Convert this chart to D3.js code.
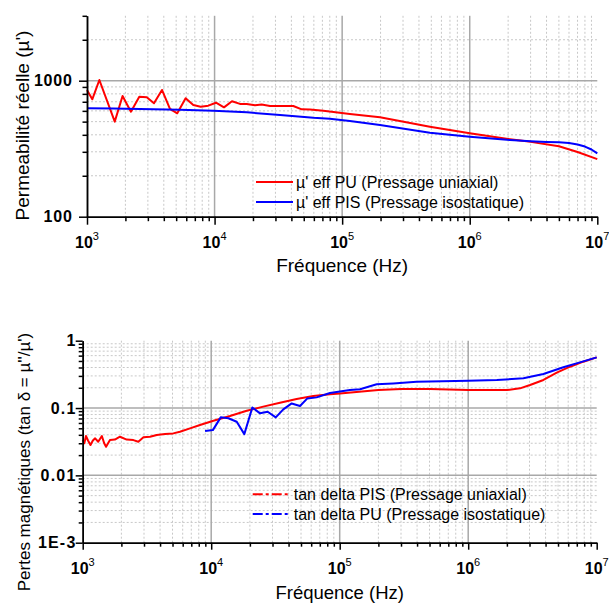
<!DOCTYPE html>
<html><head><meta charset="utf-8">
<script src="https://cdn.jsdelivr.net/npm/d3@7"></script>
<style>
html,body{margin:0;padding:0;background:#fff;}
text{font-family:"Liberation Sans",Arial,sans-serif;}
</style></head>
<body>
<svg id="c" width="609" height="605"></svg>
<script>
// ---------- DATA ----------
// Top plot: real permeability
const freqPU = [1000,1100,1250,1650,1900,2210,2570,2940,3350,3870,4470,5100,5930,6810,7780,8930,10260,11850,13690,15800,17840,20760,23400,27200,41400,48200,56000,71200,115000,198000,487000,1000000,2070000,3000000,5000000,7000000,10000000];
const muPU   = [855,730,1012,500,772,592,763,755,682,855,620,576,743,662,644,655,689,637,706,675,675,660,667,652,652,616,615,601,569,538,459,410,371,355,330,299,265];
const freqPIS = [1000,1600,5350,9800,17900,32600,59500,80000,115000,198000,487000,1000000,2070000,3000000,4000000,5000000,6000000,7000000,8000000,9000000,10000000];
const muPIS   = [627,625,612,600,585,560,533,525,505,472,415,387,366,358,354,352,348,340,328,312,292];

// Bottom plot: magnetic losses
const freqTanPIS = [1000,1030,1060,1100,1150,1200,1250,1320,1410,1470,1520,1630,1780,1950,2200,2480,2710,2970,3340,3770,4370,5070,5710,6840,8180,10400,14000,18900,25400,34300,46200,62300,84000,100400,200000,303000,505000,1000000,2000000,2530000,3030000,3850000,4890000,6200000,7870000,10000000];
const tanPIS     = [0.0334,0.0300,0.0384,0.0330,0.0282,0.0330,0.0355,0.0316,0.0384,0.0300,0.0266,0.0334,0.034,0.0375,0.034,0.0334,0.0316,0.0367,0.0375,0.0398,0.041,0.042,0.0444,0.0499,0.0559,0.0647,0.076,0.0912,0.105,0.12,0.136,0.151,0.16,0.165,0.185,0.191,0.191,0.185,0.185,0.196,0.22,0.261,0.335,0.411,0.488,0.566];
const freqTanPU = [8960,10300,11860,13600,15800,18100,20900,24000,27500,31800,36400,42300,49100,56000,66200,84000,120000,144000,194000,261000,397000,1000000,1670000,2690000,3850000,5500000,7400000,10000000];
const tanPU     = [0.0455,0.047,0.0727,0.0704,0.0626,0.041,0.102,0.0834,0.088,0.0727,0.0957,0.117,0.107,0.139,0.144,0.167,0.185,0.19,0.225,0.232,0.246,0.255,0.26,0.276,0.32,0.403,0.477,0.566];

const xTickExp = [3,4,5,6,7];
const topYLabels = [100, 1000];
const botYLabels = ["1E-3","0.01","0.1","1"];
const botYValues = [0.001,0.01,0.1,1];

const legendTop = ["µ' eff PU (Pressage uniaxial)", "µ' eff PIS (Pressage isostatique)"];
const legendBot = ["tan delta PIS (Pressage uniaxial)", "tan delta PU (Pressage isostatique)"];
const xTitle = "Fréquence (Hz)";
const yTitleTop = "Permeabilité réelle (µ')";
const yTitleBot = "Pertes magnétiques (tan δ = µ''/µ')";

// ---------- DRAW ----------
const svg = d3.select("#c");
const RED = "#ff0000", BLUE = "#0000ff";

function minors(lo, hi){
  const out=[];
  for(let e=Math.floor(Math.log10(lo)); e<Math.log10(hi); e++){
    for(let k=2;k<=9;k++){ const v=k*Math.pow(10,e); if(v>lo*1.0001 && v<=hi*1.0001) out.push(v); }
  }
  return out;
}
function majors(lo, hi){
  const out=[];
  for(let e=Math.ceil(Math.log10(lo)-1e-9); e<=Math.log10(hi)+1e-9; e++) out.push(Math.pow(10,e));
  return out;
}

function panel(cfg){
  const x = d3.scaleLog().domain([1e3,1e7]).range([cfg.x0, cfg.x1]);
  const y = d3.scaleLog().domain(cfg.ydom).range([cfg.yb, cfg.yt]);
  const g = svg.append("g");
  const xMin = minors(1e3,1e7), xMaj = majors(1e3,1e7);
  const yMin = minors(cfg.ydom[0], cfg.ydom[1]).filter(v=>v<cfg.ydom[1]*0.999), yMaj = majors(cfg.ydom[0], cfg.ydom[1]);
  g.selectAll(null).data(xMin.filter(v=>v<1e7)).enter().append("line")
    .attr("x1",d=>x(d)).attr("x2",d=>x(d)).attr("y1",cfg.yt).attr("y2",cfg.yb)
    .attr("stroke","#c8c8c8").attr("stroke-width",1).attr("stroke-dasharray","2,2");
  g.selectAll(null).data(yMin).enter().append("line")
    .attr("x1",cfg.x0).attr("x2",cfg.x1).attr("y1",d=>y(d)).attr("y2",d=>y(d))
    .attr("stroke","#c8c8c8").attr("stroke-width",1).attr("stroke-dasharray","2,2");
  g.selectAll(null).data(xMaj.filter(v=>v>1e3 && v<1e7)).enter().append("line")
    .attr("x1",d=>x(d)).attr("x2",d=>x(d)).attr("y1",cfg.yt).attr("y2",cfg.yb)
    .attr("stroke","#a8a8a8").attr("stroke-width",1.5);
  g.selectAll(null).data(yMaj.filter(v=>v>cfg.ydom[0]*1.001 && v<cfg.ydom[1]*0.999)).enter().append("line")
    .attr("x1",cfg.x0).attr("x2",cfg.x1).attr("y1",d=>y(d)).attr("y2",d=>y(d))
    .attr("stroke","#a8a8a8").attr("stroke-width",1.5);

  const line = d3.line().x(d=>x(d[0])).y(d=>y(d[1]));
  cfg.series.forEach(s=>{
    g.append("path").datum(d3.zip(s.f, s.v)).attr("d",line)
      .attr("fill","none").attr("stroke",s.color).attr("stroke-width",2).attr("stroke-linejoin","round");
  });

  const ax = (axis, tr)=>{ const a=g.append("g").attr("transform",tr).call(axis);
    a.selectAll("text").remove(); a.selectAll("path,line").attr("stroke","#000").attr("stroke-width",1.5); return a; };
  ax(d3.axisBottom(x).tickValues(xMaj).tickSize(cfg.tkMaj).tickSizeOuter(0).tickFormat(""), `translate(0,${cfg.yb})`);
  ax(d3.axisBottom(x).tickValues(xMin).tickSize(cfg.tkMin).tickSizeOuter(0).tickFormat(""), `translate(0,${cfg.yb})`);
  ax(d3.axisLeft(y).tickValues(yMaj).tickSize(cfg.tkMaj).tickSizeOuter(0).tickFormat(""), `translate(${cfg.x0},0)`);
  ax(d3.axisLeft(y).tickValues(minors(cfg.ydom[0], cfg.ydom[1])).tickSize(cfg.tkMin).tickSizeOuter(0).tickFormat(""), `translate(${cfg.x0},0)`);

  xTickExp.forEach(e=>{
    const t = g.append("text").attr("x", x(Math.pow(10,e))).attr("y", cfg.xlabY)
      .attr("text-anchor","middle").attr("font-size",16).attr("font-weight","bold");
    t.append("tspan").text("10");
    t.append("tspan").attr("dy",-8).attr("font-size",11).attr("font-weight","normal").text(e);
  });
  cfg.ylabs.forEach((lab,i)=>{
    g.append("text").attr("x",cfg.ylabX).attr("y", y(cfg.yvals[i])+5.5)
      .attr("text-anchor","end").attr("font-size",16).attr("font-weight","bold")
      .attr("letter-spacing", cfg.ls).text(lab);
  });
  g.append("text").attr("x",(cfg.x0+cfg.x1)/2).attr("y",cfg.xTitleY).attr("text-anchor","middle")
    .attr("font-size",cfg.xTitleSize).text(xTitle);
  g.append("text").attr("transform",`translate(${cfg.yTitleX},${cfg.yTitleY}) rotate(-90)`)
    .attr("text-anchor","middle").attr("font-size",cfg.yTitleSize).text(cfg.yTitle);

  cfg.series.forEach((s,i)=>{
    const ly = cfg.legY[i];
    g.append("line").attr("x1",cfg.legX0).attr("x2",cfg.legX1).attr("y1",ly).attr("y2",ly)
      .attr("stroke",s.color).attr("stroke-width",2).attr("stroke-dasharray",cfg.legDash);
    g.append("text").attr("x",cfg.legX1+3).attr("y",ly+5.5).attr("font-size",16).text(cfg.legend[i]);
  });
}

panel({
  x0:87, x1:597.3, yb:216.7, yt:15.8, ydom:[100,3000], tkMaj:8, tkMin:4.5,
  series:[{f:freqPU,v:muPU,color:RED},{f:freqPIS,v:muPIS,color:BLUE}],
  xlabY:247.5, ylabs:topYLabels.map(String), yvals:topYLabels, ylabX:72.7, ls:0.8,
  xTitleY:271.5, xTitleSize:19, yTitle:yTitleTop, yTitleX:29, yTitleY:125.5, yTitleSize:19,
  legend:legendTop, legY:[182,202], legX0:256, legX1:293, legDash:null
});
panel({
  x0:82.7, x1:596.7, yb:542.7, yt:340.7, ydom:[0.001,1], tkMaj:7, tkMin:4,
  series:[{f:freqTanPIS,v:tanPIS,color:RED},{f:freqTanPU,v:tanPU,color:BLUE}],
  xlabY:573.5, ylabs:botYLabels, yvals:botYValues, ylabX:76.5, ls:1.2,
  xTitleY:599, xTitleSize:18.5, yTitle:yTitleBot, yTitleX:30, yTitleY:462, yTitleSize:17,
  legend:legendBot, legY:[494.3,514], legX0:252.7, legX1:290.7, legDash:"10,3,3,3"
});
</script>
</body></html>
